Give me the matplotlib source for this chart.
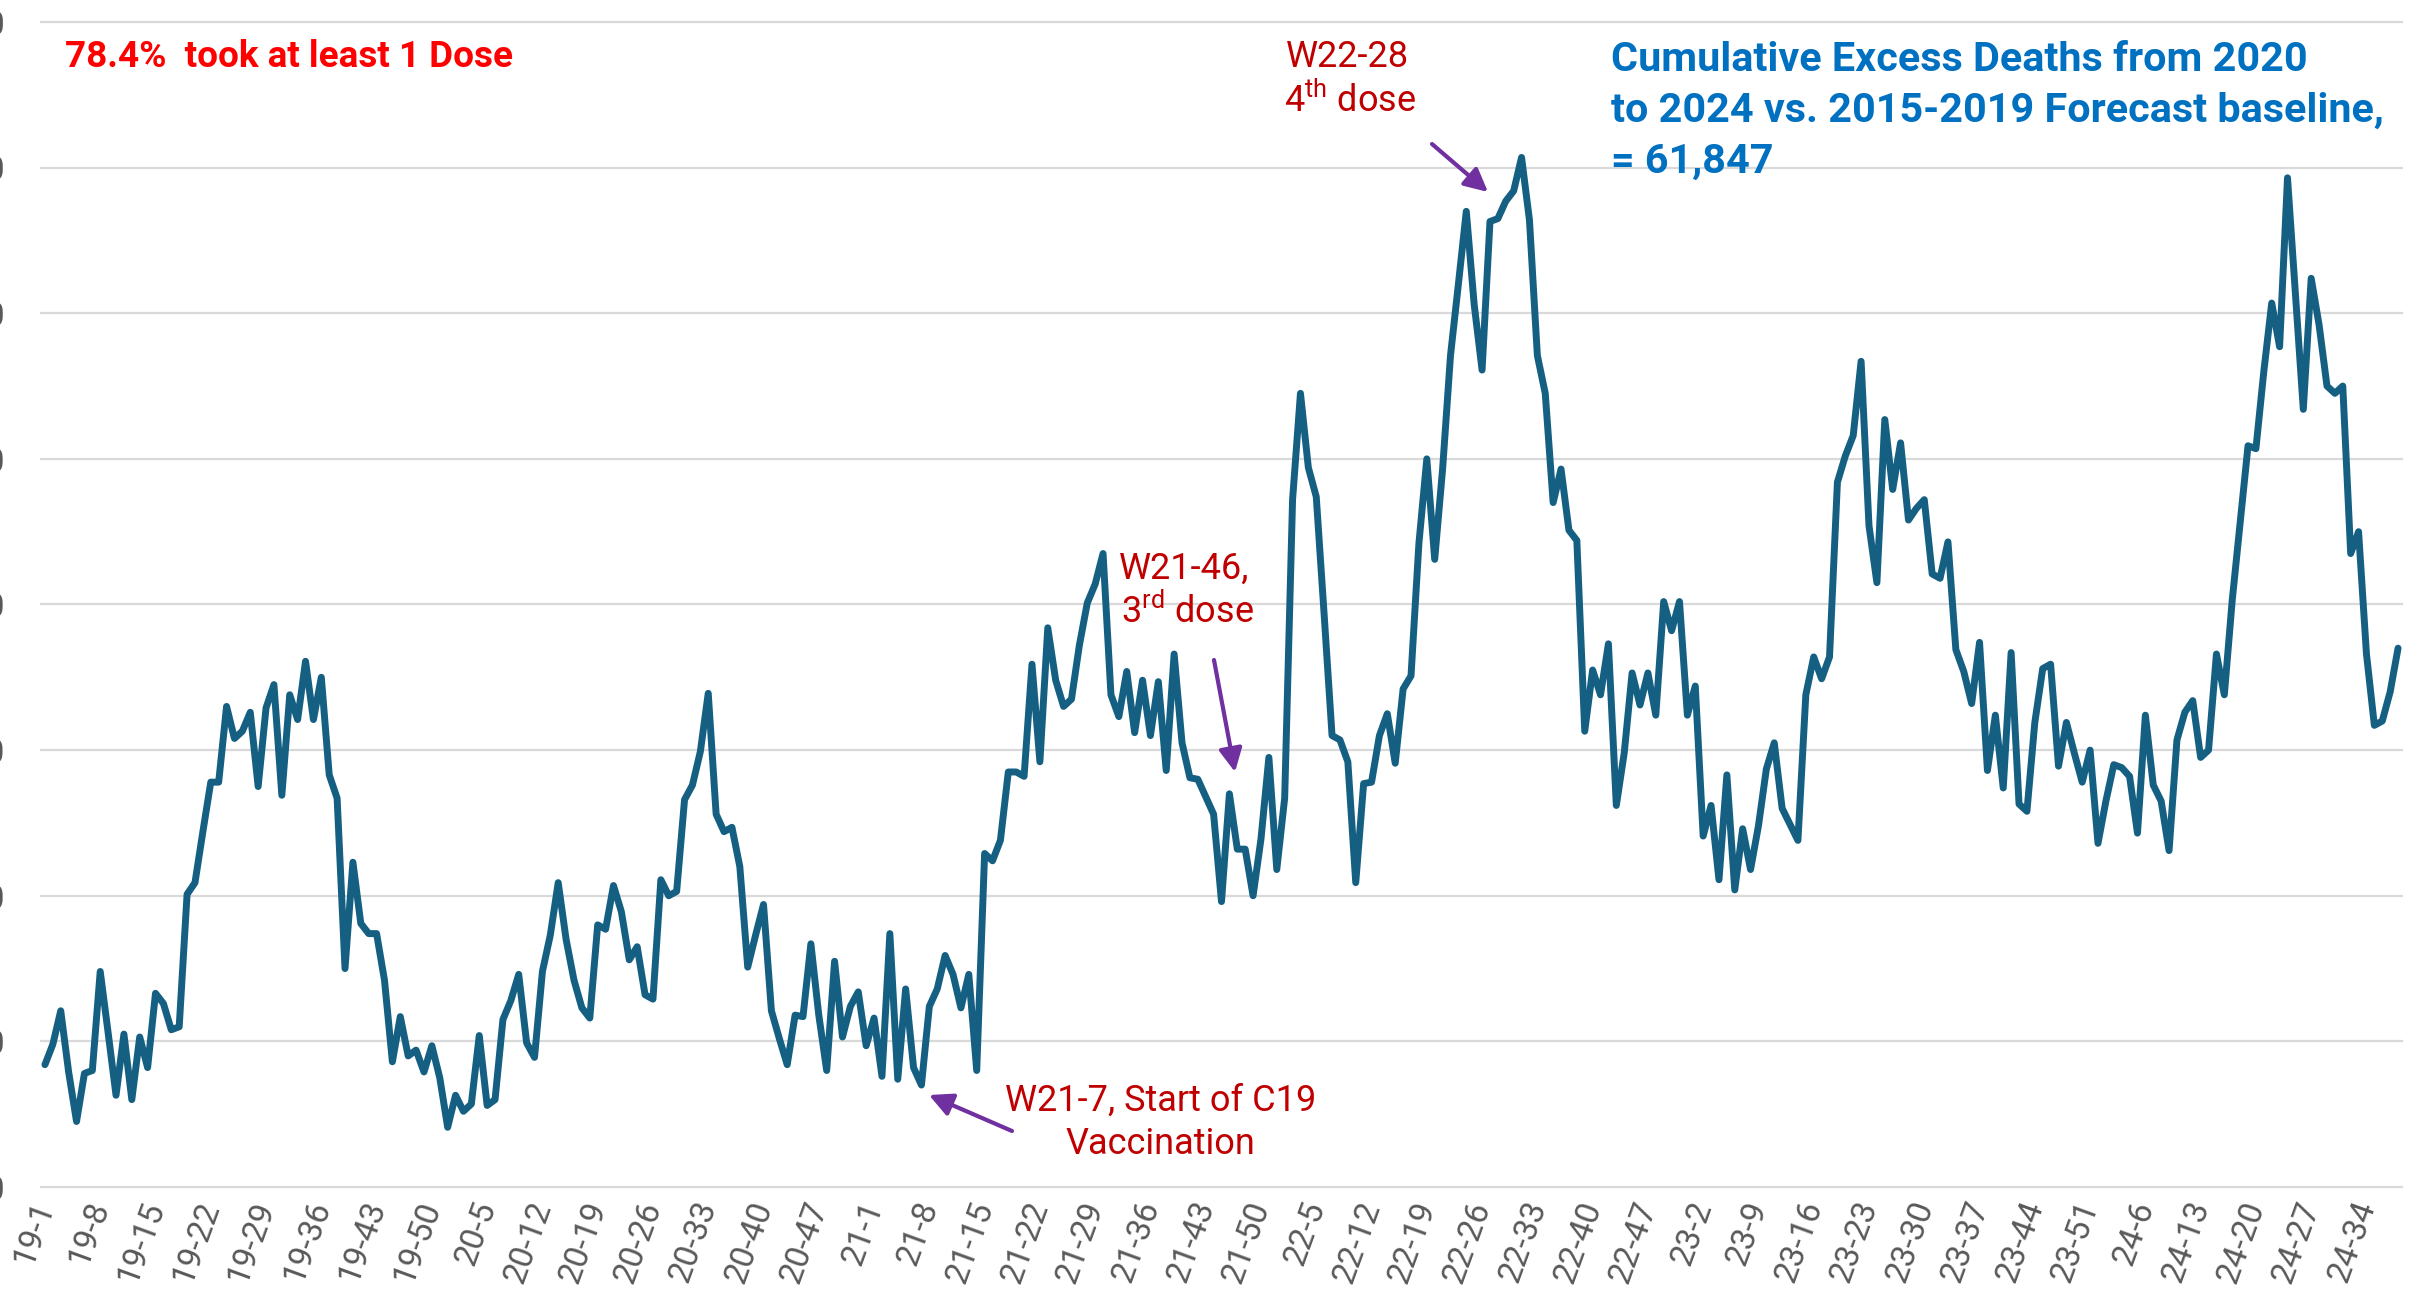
import matplotlib
matplotlib.use("Agg")
import matplotlib.pyplot as plt
from matplotlib.ticker import FuncFormatter

plt.rcParams['font.family'] = ['Roboto', 'DejaVu Sans']
plt.rcParams['mathtext.fontset'] = 'custom'
plt.rcParams['mathtext.rm'] = 'Roboto'

# ---- data: weekly deaths ----
YEARS = [19, 20, 21, 22, 23, 24]
WEEKS_IN_YEAR = [52, 53, 52, 52, 52, 38]

deaths_2019 = [2652, 2694, 2763, 2637, 2535, 2634, 2640, 2844, 2718, 2589,
               2715, 2580, 2709, 2646, 2799, 2778, 2724, 2730, 3003, 3027,
               3132, 3234, 3234, 3390, 3324, 3339, 3378, 3225, 3387, 3435,
               3207, 3414, 3363, 3483, 3363, 3450, 3249, 3201, 2850, 3069,
               2943, 2922, 2922, 2826, 2658, 2751, 2670, 2682, 2637, 2691,
               2625, 2523]
deaths_2020 = [2589, 2556, 2571, 2712, 2568, 2580, 2745, 2784, 2838, 2697,
               2667, 2844, 2919, 3027, 2910, 2826, 2769, 2748, 2940, 2931,
               3021, 2967, 2868, 2895, 2796, 2787, 3033, 3000, 3009, 3198,
               3228, 3297, 3417, 3168, 3132, 3141, 3060, 2853, 2919, 2982,
               2763, 2706, 2652, 2754, 2751, 2901, 2754, 2640, 2865, 2709,
               2772, 2802, 2691]
deaths_2021 = [2748, 2628, 2922, 2622, 2808, 2646, 2610, 2772, 2808, 2877,
               2838, 2769, 2838, 2640, 3087, 3072, 3114, 3255, 3255, 3246,
               3477, 3276, 3552, 3444, 3390, 3405, 3516, 3603, 3642, 3705,
               3414, 3369, 3462, 3336, 3444, 3330, 3441, 3258, 3498, 3315,
               3243, 3240, 3204, 3168, 2988, 3210, 3096, 3096, 3000, 3117,
               3285, 3054]
deaths_2022 = [3201, 3816, 4035, 3882, 3822, 3579, 3330, 3321, 3276, 3027,
               3231, 3234, 3330, 3375, 3273, 3426, 3453, 3726, 3900, 3693,
               3879, 4113, 4260, 4410, 4218, 4083, 4389, 4395, 4431, 4452,
               4521, 4392, 4113, 4035, 3810, 3879, 3753, 3732, 3339, 3465,
               3414, 3519, 3186, 3294, 3459, 3393, 3459, 3372, 3606, 3546,
               3606, 3372]
deaths_2023 = [3432, 3123, 3186, 3033, 3249, 3012, 3138, 3054, 3144, 3261,
               3315, 3180, 3147, 3114, 3414, 3492, 3447, 3492, 3852, 3906,
               3948, 4101, 3762, 3645, 3981, 3837, 3933, 3774, 3798, 3816,
               3663, 3654, 3729, 3507, 3462, 3396, 3522, 3258, 3372, 3222,
               3501, 3189, 3174, 3357, 3468, 3477, 3267, 3357, 3294, 3234,
               3300, 3108]
deaths_2024 = [3195, 3270, 3264, 3246, 3129, 3372, 3228, 3195, 3093, 3321,
               3378, 3402, 3285, 3300, 3498, 3414, 3609, 3768, 3927, 3921,
               4080, 4221, 4131, 4479, 4239, 4002, 4272, 4176, 4050, 4035,
               4050, 3705, 3750, 3498, 3351, 3360, 3420, 3510]

Y_TICKS = [2400, 2700, 3000, 3300, 3600, 3900, 4200, 4500, 4800]
TICK_STEP = 7

series = (deaths_2019 + deaths_2020 + deaths_2021 + deaths_2022
          + deaths_2023 + deaths_2024)
categories = []
for yr, nw in zip(YEARS, WEEKS_IN_YEAR):
    categories += [f"{yr}-{w}" for w in range(1, nw + 1)]
n = len(series)
x = list(range(n))

# ---- figure ----
W, H = 2412, 1312
fig = plt.figure(figsize=(W / 100, H / 100), dpi=100)
L, R, B, T = 41, 2402, 1187, 22
ax = fig.add_axes([L / W, 1 - B / H, (R - L) / W, (B - T) / H])

ax.plot(x, series, color='#156082', lw=5.0, solid_joinstyle='round',
        solid_capstyle='round', zorder=3)

ax.set_xlim(-0.5, n - 0.5)
ax.set_ylim(Y_TICKS[0], Y_TICKS[-1])
ax.set_yticks(Y_TICKS)
ax.yaxis.set_major_formatter(FuncFormatter(lambda v, p: f"{int(v):,}"))
ax.grid(axis='y', color='#D9D9D9', lw=1.6, zorder=0)
for gl in ax.get_ygridlines():
    gl.set_clip_on(False)
for s in ax.spines.values():
    s.set_visible(False)

ticks = list(range(0, n, TICK_STEP))
ax.set_xticks(ticks)
ax.set_xticklabels([categories[i] for i in ticks], rotation=70,
                   rotation_mode='anchor', ha='right', va='center')
ax.tick_params(axis='x', length=0, pad=11, labelsize=24, labelcolor='#595959')
ax.tick_params(axis='y', length=0, pad=26, labelsize=24, labelcolor='#595959')


def fx(px):
    return px / W


def fy(py):
    return 1 - py / H


RED = '#C00000'
ANN = 26

# ---- texts ----
fig.text(fx(65), fy(57), "78.4%  took at least 1 Dose", color='#FF0000',
         fontsize=26.6, fontweight='bold', ha='left', va='center')

blue_lines = ["Cumulative Excess Deaths from 2020",
              "to 2024 vs. 2015-2019 Forecast baseline,",
              "= 61,847"]
for line, py in zip(blue_lines, [60, 111, 162]):
    fig.text(fx(1611), fy(py), line, color='#0070C0', fontsize=29.8,
             fontweight='bold', ha='left', va='center')

fig.text(fx(1347), fy(57), "W22-28", color=RED, fontsize=ANN,
         ha='center', va='center')
fig.text(fx(1350), fy(101), r"4$^{\mathrm{th}}$ dose", color=RED,
         fontsize=ANN, ha='center', va='center')

fig.text(fx(1184), fy(569), "W21-46,", color=RED, fontsize=ANN,
         ha='center', va='center')
fig.text(fx(1187), fy(612), r"3$^{\mathrm{rd}}$ dose", color=RED,
         fontsize=ANN, ha='center', va='center')

fig.text(fx(1161), fy(1101), "W21-7, Start of C19", color=RED,
         fontsize=ANN, ha='center', va='center')
fig.text(fx(1160), fy(1144), "Vaccination", color=RED, fontsize=ANN,
         ha='center', va='center')

# ---- arrows ----
arrow_kw = dict(arrowstyle='-|>,head_length=0.7,head_width=0.35',
                color='#7030A0', lw=3, mutation_scale=20, shrinkA=0,
                shrinkB=0)
for tail, head in [((1012, 1131), (929, 1095)),
                   ((1214, 660), (1235, 772)),
                   ((1432, 144), (1488, 192))]:
    fig.add_artist(matplotlib.patches.FancyArrowPatch(
        (fx(tail[0]), fy(tail[1])), (fx(head[0]), fy(head[1])),
        transform=fig.transFigure, **arrow_kw))

fig.savefig("out.png", dpi=100)
